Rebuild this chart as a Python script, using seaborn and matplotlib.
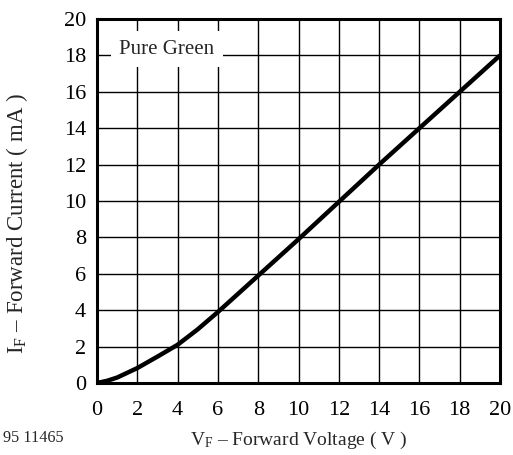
import seaborn as sns
import matplotlib.pyplot as plt
import pandas as pd

# forward voltage (V) and forward current (mA)
vf = [0, 0.5, 1, 2, 3, 4, 5, 6, 8, 10, 12, 14, 16, 18, 20]
i_f = [0, 0.12, 0.3, 0.82, 1.45, 2.1, 2.95, 3.9, 5.9, 7.9, 9.95, 12.0, 14.0, 16.0, 18.0]

x_ticks = list(range(0, 21, 2))
y_ticks = list(range(0, 21, 2))

df = pd.DataFrame({"vf": vf, "if": i_f})

sns.set_theme(style="white")
plt.rcParams["font.family"] = ["Liberation Serif", "DejaVu Serif"]
plt.rcParams["mathtext.fontset"] = "custom"
plt.rcParams["mathtext.rm"] = "Liberation Serif"
plt.rcParams["mathtext.it"] = "Liberation Serif"

fig = plt.figure(figsize=(5.13, 4.55), dpi=100)
ax = fig.add_axes([97 / 513, 1 - 383 / 455, (500 - 97) / 513, (383 - 19) / 455])

sns.lineplot(data=df, x="vf", y="if", color="black", linewidth=3.2, ax=ax,
             solid_capstyle="butt", zorder=5)

ax.set_xlim(0, 20)
ax.set_ylim(0, 20)
ax.set_xticks(x_ticks)
ax.set_yticks(y_ticks)
ax.tick_params(length=0, labelsize=16, colors="black")
ax.tick_params(axis="x", pad=13)
ax.tick_params(axis="y", pad=8)
ax.grid(True, color="black", linewidth=1.0)
for s in ax.spines.values():
    s.set_linewidth(2.2)
    s.set_color("black")

ax.set_xlabel(r"V$_\mathrm{F}$ – Forward Voltage ( V )", fontsize=14)
ax.set_ylabel(r"I$_\mathrm{F}$ – Forward Current ( mA )", fontsize=16.5)
ax.xaxis.set_label_coords(0.5, -0.129)
ax.yaxis.set_label_coords(-0.167, 0.437)

ax.text(1.1, 18.35, "Pure Green", fontsize=15, va="center", ha="left", zorder=6,
        bbox=dict(facecolor="white", edgecolor="none", pad=6))

fig.text(3 / 513, 1 - 438 / 455, "95 11465", fontsize=11.7, va="center", ha="left")

fig.savefig("out.png", dpi=100)
